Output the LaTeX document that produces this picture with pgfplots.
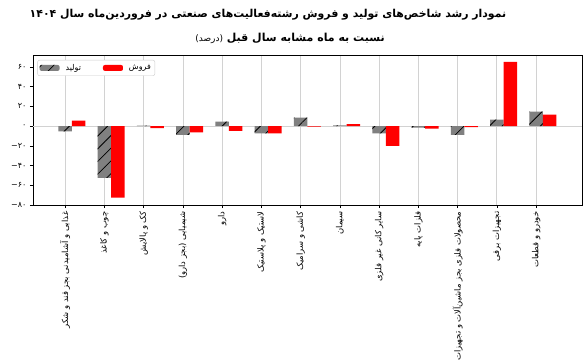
\documentclass[border=0pt]{standalone}
\usepackage{fontspec}
\usepackage{pgfplots}
\pgfplotsset{compat=1.18}
\usetikzlibrary{patterns.meta}
\TeXXeTstate=1
\newfontfamily\arabicfont[Script=Arabic]{DejaVu Sans}
\newcommand{\negnum}[1]{\hbox{−}\hbox{#1}}
\begin{document}
\begin{tikzpicture}
\begin{axis}[
  at={(0,0)}, anchor=south west,
  scale only axis, width=549pt, height=150pt,
  xmin=-0.82, xmax=13.17, ymin=-80, ymax=72,
  axis line style={black, line width=0.6pt},
  tick align=outside, tick pos=left,
  major tick length=3pt,
  tick style={black, line width=0.5pt},
  xtick={0,...,12},
  xticklabels={
    {\beginR غذایی و آشامیدنی بجز قند و شکر\endR},
    {\beginR چوب و کاغذ\endR},
    {\beginR کک و پالایش\endR},
    {\beginR شیمیایی (بجز دارو)\endR},
    {\beginR دارو\endR},
    {\beginR لاستیک و پلاستیک\endR},
    {\beginR کاشی و سرامیک\endR},
    {\beginR سیمان\endR},
    {\beginR سایر کانی غیر فلزی\endR},
    {\beginR فلزات پایه\endR},
    {\beginR محصولات فلزی بجز ماشین‌آلات و تجهیزات\endR},
    {\beginR تجهیزات برقی\endR},
    {\beginR خودرو و قطعات\endR}},
  xticklabel style={font=\arabicfont\fontsize{8.4}{9}\selectfont, rotate=90, anchor=east},
  ytick={-80,-60,-40,-20,0,20,40,60},
  yticklabels={{\negnum{۸۰}},{\negnum{۶۰}},{\negnum{۴۰}},{\negnum{۲۰}},۰,۲۰,۴۰,۶۰},
  yticklabel style={font=\arabicfont\fontsize{8}{9}\selectfont},
  xmajorgrids,
  grid style={gray!35, line width=0.7pt},
  extra y ticks={0}, extra y tick labels={},
  extra y tick style={grid=major, major tick length=0pt},
  legend style={at={(0.008,0.967)}, anchor=north west, draw=gray!40, rounded corners=2pt,
    font=\arabicfont\fontsize{8}{9}\selectfont, inner sep=2pt},
  legend columns=2,
  legend cell align=left,
  /tikz/every odd column/.append style={column sep=4pt},
  /tikz/every even column/.append style={column sep=20pt},
  legend image code/.code={\draw[#1,draw=none] (0pt,-3pt) rectangle (20pt,3pt);},
]
\addplot[ybar, bar width=0.345, bar shift=0, fill=gray, draw=none,
  postaction={pattern={Lines[angle=45,distance=9pt,line width=0.8pt]}, pattern color=black}]
  coordinates {(0,-5.5) (1,-52.5) (2,0.5) (3,-9) (4,4.5) (5,-7.5) (6,8.5) (7,0.8) (8,-7.5) (9,-1.5) (10,-9) (11,6.5) (12,14.5)};
\addlegendentry{\beginR تولید\endR}
\addplot[ybar, bar width=0.345, bar shift=0.345, fill=red, draw=none]
  coordinates {(0,5.5) (1,-72.5) (2,-2) (3,-6.5) (4,-5) (5,-7.5) (6,-0.5) (7,2) (8,-20) (9,-2.5) (10,-1) (11,65) (12,11.5)};
\addlegendentry{\beginR فروش\endR}
\end{axis}
\node[font=\arabicfont\bfseries\fontsize{10.9}{13}\selectfont] at (235pt,190pt) {\beginR نمودار رشد شاخص‌های تولید و فروش رشته‌فعالیت‌های صنعتی در فروردین‌ماه سال \beginL۱۴۰۴\endL\endR};
\node[font=\arabicfont\fontsize{11}{13}\selectfont] at (257pt,167pt) {\beginR\bfseries نسبت به ماه مشابه سال قبل \mdseries\fontsize{9}{10}\selectfont(درصد)\endR};
\pgfresetboundingbox
\path[use as bounding box] (-33pt,-156pt) rectangle (551pt,205pt);
\end{tikzpicture}
\end{document}
